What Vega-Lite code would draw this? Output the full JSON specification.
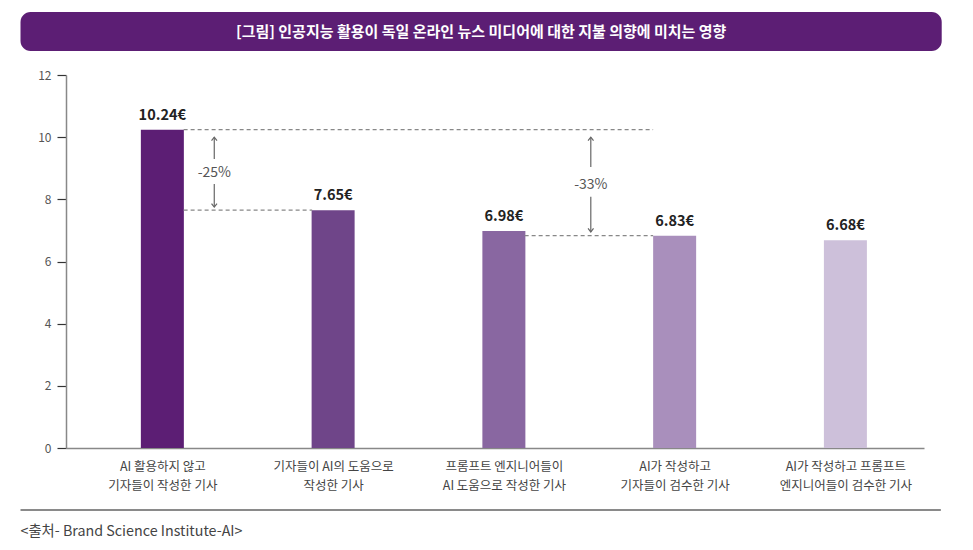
{
  "$schema": "https://vega.github.io/schema/vega-lite/v6.json",
  "width": 858,
  "height": 373,
  "autosize": {"type": "none"},
  "padding": {"left": 66, "top": 75, "right": 49, "bottom": 102},
  "background": "white",
  "config": {"font": "Noto Sans CJK KR", "view": {"stroke": null}},
  "datasets": {
    "bars": [
      {"i": 0, "cat": "AI 활용하지 않고 기자들이 작성한 기사", "value": 10.24, "label": "10.24€"},
      {"i": 1, "cat": "기자들이 AI의 도움으로 작성한 기사", "value": 7.65, "label": "7.65€"},
      {"i": 2, "cat": "프롬프트 엔지니어들이 AI 도움으로 작성한 기사", "value": 6.98, "label": "6.98€"},
      {"i": 3, "cat": "AI가 작성하고 기자들이 검수한 기사", "value": 6.83, "label": "6.83€"},
      {"i": 4, "cat": "AI가 작성하고 프롬프트 엔지니어들이 검수한 기사", "value": 6.68, "label": "6.68€"}
    ],
    "dashes": [
      {"from": 0.1245, "to": 2.874, "level": 10.24},
      {"from": 0.1245, "to": 0.877, "level": 7.65},
      {"from": 2.1216, "to": 2.874, "level": 6.83}
    ],
    "shafts": [
      {"pos": 0.304, "top": 10.0, "bottom": 9.3},
      {"pos": 0.304, "top": 8.49, "bottom": 7.75},
      {"pos": 2.509, "top": 10.0, "bottom": 9.04},
      {"pos": 2.509, "top": 8.08, "bottom": 6.95}
    ],
    "headsUp": [{"pos": 0.304, "tip": 10.0}, {"pos": 2.509, "tip": 10.0}],
    "headsDown": [{"pos": 0.304, "tip": 7.75}, {"pos": 2.509, "tip": 6.95}],
    "changes": [
      {"pos": 0.304, "mid": 8.85, "text": "-25%"},
      {"pos": 2.509, "mid": 8.46, "text": "-33%"}
    ],
    "header": [{"title": "[그림] 인공지능 활용이 독일 온라인 뉴스 미디어에 대한 지불 의향에 미치는 영향"}],
    "source": [{"text": "<출처- Brand Science Institute-AI>"}]
  },
  "layer": [
    {
      "data": {"name": "bars"},
      "mark": {"type": "bar", "size": 43},
      "encoding": {
        "x": {
          "field": "i",
          "type": "quantitative",
          "scale": {"domain": [-0.535, 4.431], "nice": false, "zero": false},
          "axis": {
            "values": [0, 1, 2, 3, 4],
            "labelExpr": "[['AI 활용하지 않고', '기자들이 작성한 기사'], ['기자들이 AI의 도움으로', '작성한 기사'], ['프롬프트 엔지니어들이', 'AI 도움으로 작성한 기사'], ['AI가 작성하고', '기자들이 검수한 기사'], ['AI가 작성하고 프롬프트', '엔지니어들이 검수한 기사']][datum.value]",
            "ticks": false,
            "grid": false,
            "title": null,
            "domainColor": "#888888",
            "domainWidth": 1.5,
            "labelFontSize": 12.5,
            "labelColor": "#444444",
            "labelPadding": 12,
            "labelLineHeight": 19,
            "labelFlush": false,
            "labelOverlap": false,
            "labelBound": false
          }
        },
        "y": {
          "field": "value",
          "type": "quantitative",
          "scale": {"domain": [0, 12], "nice": false},
          "axis": {
            "values": [0, 2, 4, 6, 8, 10, 12],
            "grid": false,
            "title": null,
            "tickSize": 9,
            "tickColor": "#333333",
            "tickWidth": 1.2,
            "domainColor": "#888888",
            "domainWidth": 1.5,
            "labelFontSize": 12,
            "labelColor": "#555555",
            "labelPadding": 6
          }
        },
        "color": {
          "field": "i",
          "type": "ordinal",
          "scale": {"domain": [0, 1, 2, 3, 4], "range": ["#5c1e74", "#6f4589", "#8967a1", "#a98fbc", "#cdc0da"]},
          "legend": null
        }
      }
    },
    {
      "data": {"name": "bars"},
      "mark": {"type": "text", "baseline": "bottom", "dy": -7, "fontSize": 14.5, "fontWeight": "bold", "color": "#222222"},
      "encoding": {
        "x": {"field": "i", "type": "quantitative", "title": null},
        "y": {"field": "value", "type": "quantitative", "title": null},
        "text": {"field": "label"}
      }
    },
    {
      "data": {"name": "dashes"},
      "mark": {"type": "rule", "strokeDash": [4, 3], "color": "#888888", "strokeWidth": 1.2},
      "encoding": {
        "x": {"field": "from", "type": "quantitative", "title": null},
        "x2": {"field": "to"},
        "y": {"field": "level", "type": "quantitative", "title": null}
      }
    },
    {
      "data": {"name": "shafts"},
      "mark": {"type": "rule", "color": "#666666", "strokeWidth": 1.2},
      "encoding": {
        "x": {"field": "pos", "type": "quantitative", "title": null},
        "y": {"field": "top", "type": "quantitative", "title": null},
        "y2": {"field": "bottom"}
      }
    },
    {
      "data": {"name": "headsUp"},
      "mark": {"type": "point", "shape": "M-1,1.3L0,0L1,1.3", "filled": false, "size": 30, "stroke": "#666666", "strokeWidth": 1.2, "opacity": 1},
      "encoding": {
        "x": {"field": "pos", "type": "quantitative", "title": null},
        "y": {"field": "tip", "type": "quantitative", "title": null}
      }
    },
    {
      "data": {"name": "headsDown"},
      "mark": {"type": "point", "shape": "M-1,-1.3L0,0L1,-1.3", "filled": false, "size": 30, "stroke": "#666666", "strokeWidth": 1.2, "opacity": 1},
      "encoding": {
        "x": {"field": "pos", "type": "quantitative", "title": null},
        "y": {"field": "tip", "type": "quantitative", "title": null}
      }
    },
    {
      "data": {"name": "changes"},
      "mark": {"type": "text", "fontSize": 14, "color": "#555555", "baseline": "middle"},
      "encoding": {
        "x": {"field": "pos", "type": "quantitative", "title": null},
        "y": {"field": "mid", "type": "quantitative", "title": null},
        "text": {"field": "text"}
      }
    },
    {
      "data": {"name": "header"},
      "mark": {"type": "rect", "color": "#5c1e74", "cornerRadius": 10},
      "encoding": {
        "x": {"datum": -0.8307, "type": "quantitative", "title": null},
        "x2": {"datum": 4.564},
        "y": {"datum": 14.027, "type": "quantitative", "title": null},
        "y2": {"datum": 12.772}
      }
    },
    {
      "data": {"name": "header"},
      "mark": {"type": "text", "color": "white", "fontWeight": "bold", "fontSize": 15, "align": "center", "baseline": "middle"},
      "encoding": {
        "x": {"datum": 1.867, "type": "quantitative", "title": null},
        "y": {"datum": 13.383, "type": "quantitative", "title": null},
        "text": {"field": "title"}
      }
    },
    {
      "data": {"name": "source"},
      "mark": {"type": "rule", "color": "#8a8a8a", "strokeWidth": 2},
      "encoding": {
        "x": {"datum": -0.8307, "type": "quantitative", "title": null},
        "x2": {"datum": 4.559},
        "y": {"datum": -1.995, "type": "quantitative", "title": null}
      }
    },
    {
      "data": {"name": "source"},
      "mark": {"type": "text", "color": "#444444", "fontSize": 14.3, "align": "left", "baseline": "middle"},
      "encoding": {
        "x": {"datum": -0.8307, "type": "quantitative", "title": null},
        "y": {"datum": -2.702, "type": "quantitative", "title": null},
        "text": {"field": "text"}
      }
    }
  ]
}
